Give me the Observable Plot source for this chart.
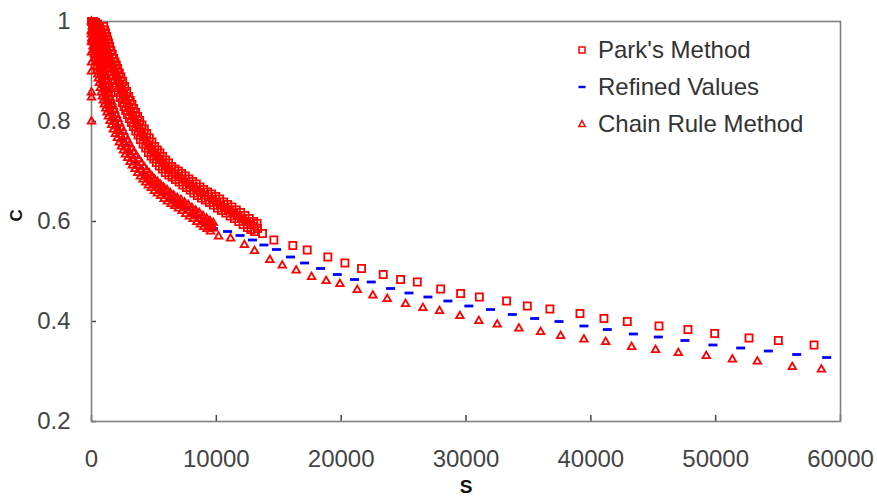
<!DOCTYPE html>
<html><head><meta charset="utf-8">
<script src="https://cdn.jsdelivr.net/npm/d3@7"></script>
<script src="https://cdn.jsdelivr.net/npm/@observablehq/plot@0.6"></script>
<style>
body{margin:0;background:#fff;}
#wrap{position:relative;width:877px;height:504px;font-family:"Liberation Sans",Arial,sans-serif;}
#legend{position:absolute;left:574px;top:31px;font-size:24px;color:#333;line-height:37px;}
#legend div{display:flex;align-items:center;white-space:nowrap;height:37px;}
#legend svg{width:16px;height:16px;margin-right:8px;}
</style></head><body><div id="wrap"><div id="legend"></div></div>
<script>
const xTicks = [0, 10000, 20000, 30000, 40000, 50000, 60000];
const yTicks = [0.2, 0.4, 0.6, 0.8, 1];
const seriesNames = ["Park's Method", "Refined Values", "Chain Rule Method"];

// [S, C] pairs
const parkPoints = [
[0,1.0],[80,0.996],[160,1.0],[240,0.993],[320,0.998],[400,0.99],[480,0.995],[560,0.988],[640,0.99],[200,0.994],[450,0.985],
[471,0.978],[721,0.984],[971,0.990],[551,0.971],[801,0.977],[1051,0.983],[632,0.965],[882,0.971],[1132,0.977],
[712,0.958],[962,0.964],[1212,0.970],[792,0.951],[1042,0.957],[1292,0.963],[872,0.945],[1122,0.951],[1372,0.957],
[952,0.938],[1202,0.944],[1452,0.950],[1059,0.930],[1309,0.936],[1559,0.942],[1165,0.922],[1415,0.928],[1665,0.934],
[1272,0.914],[1522,0.920],[1772,0.926],[1379,0.907],[1629,0.913],[1879,0.919],[1486,0.901],[1736,0.907],[1986,0.913],
[1593,0.894],[1843,0.900],[2093,0.906],[1727,0.885],[1977,0.891],[2227,0.897],[1860,0.877],[2110,0.883],[2360,0.889],
[1994,0.868],[2244,0.874],[2494,0.880],[2154,0.858],[2404,0.864],[2654,0.870],[2314,0.848],[2564,0.854],[2814,0.860],
[2474,0.838],[2724,0.844],[2974,0.850],[2608,0.830],[2858,0.836],[3108,0.842],[2741,0.822],[2991,0.828],[3241,0.834],
[2875,0.814],[3125,0.820],[3375,0.826],[3035,0.806],[3285,0.812],[3535,0.818],[3196,0.798],[3446,0.804],[3696,0.810],
[3356,0.790],[3606,0.796],[3856,0.802],[3543,0.781],[3793,0.787],[4043,0.793],[3730,0.773],[3980,0.779],[4230,0.785],
[3917,0.764],[4167,0.770],[4417,0.776],[4131,0.755],[4381,0.761],[4631,0.767],[4344,0.747],[4594,0.753],[4844,0.759],
[4558,0.738],[4808,0.744],[5058,0.750],[4772,0.731],[5022,0.737],[5272,0.743],[4985,0.725],[5235,0.731],[5485,0.737],
[5199,0.718],[5449,0.724],[5699,0.730],[5439,0.711],[5689,0.717],[5939,0.723],[5680,0.705],[5930,0.711],[6180,0.717],
[5920,0.698],[6170,0.704],[6420,0.710],[6187,0.693],[6437,0.699],[6687,0.705],[6454,0.689],[6704,0.695],[6954,0.701],
[6721,0.684],[6971,0.690],[7221,0.696],[7015,0.679],[7265,0.685],[7515,0.691],[7309,0.673],[7559,0.679],[7809,0.685],
[7603,0.668],[7853,0.674],[8103,0.680],[7897,0.663],[8147,0.669],[8397,0.675],[8190,0.657],[8440,0.663],[8690,0.669],
[8484,0.652],[8734,0.658],[8984,0.664],[8805,0.647],[9055,0.653],[9305,0.659],[9125,0.643],[9375,0.649],[9625,0.655],
[9446,0.638],[9696,0.644],[9946,0.650],[9766,0.633],[10016,0.639],[10266,0.645],[10087,0.627],[10337,0.633],[10587,0.639],
[10407,0.622],[10657,0.628],[10907,0.634],[10754,0.617],[11004,0.623],[11254,0.629],[11102,0.611],[11352,0.617],[11602,0.623],
[11449,0.606],[11699,0.612],[11949,0.618],[11796,0.600],[12046,0.606],[12296,0.612],[12143,0.594],[12393,0.600],[12643,0.606],
[12490,0.588],[12740,0.594],[12990,0.600],[12770,0.584],[13020,0.590],[13270,0.596],[13051,0.580],[13301,0.586],
[13700,0.576],[14610,0.563],[16130,0.552],[17280,0.543],[18930,0.529],[20300,0.517],[21630,0.506],[23370,0.494],
[24760,0.484],[26100,0.479],[27970,0.465],[29570,0.456],[31070,0.449],[33250,0.441],[34910,0.431],[36720,0.425],
[39130,0.416],[41050,0.406],[42920,0.400],[45460,0.391],[47780,0.384],[49920,0.376],[52670,0.367],[55020,0.362],[57880,0.353]
];

const refinedPoints = [
[160,0.988],[240,0.976],[321,0.964],[401,0.952],[481,0.940],[561,0.928],[641,0.916],[721,0.904],[801,0.892],[922,0.878],
[1042,0.864],[1162,0.852],[1282,0.840],[1443,0.828],[1603,0.816],[1803,0.803],[2003,0.790],[2244,0.777],[2484,0.764],[2725,0.752],
[2965,0.740],[3246,0.729],[3526,0.718],[3847,0.707],[4167,0.696],[4488,0.687],[4808,0.678],[5169,0.670],[5529,0.662],[5930,0.654],
[6330,0.646],[6771,0.639],[7212,0.632],[7653,0.624],[8093,0.616],[8534,0.608],[8975,0.600],[9376,0.593],[9776,0.586],
[10900,0.580],[11900,0.572],[12900,0.563],[13810,0.553],[14820,0.544],[15945,0.529],[17070,0.517],[18350,0.506],[19690,0.494],
[21070,0.484],[22410,0.479],[23960,0.466],[25430,0.457],[26950,0.449],[28550,0.441],[30230,0.431],[31970,0.424],[33710,0.414],
[35500,0.406],[37450,0.400],[39450,0.391],[41320,0.384],[43406,0.375],[45406,0.369],[47540,0.362],[49780,0.353],[52003,0.347],
[54220,0.341],[56490,0.334],[58894,0.328]
];

const chainPoints = [
[0,0.80],[0,0.848],[0,0.858],[0,0.90],[0,0.918],[0,0.938],[0,0.96],[0,0.98],[0,1.0],[60,0.99],
[0,0.982],[160,0.988],[410,0.994],[0,0.974],[214,0.980],[464,0.986],[17,0.966],[267,0.972],[517,0.978],
[71,0.958],[321,0.964],[571,0.970],[124,0.950],[374,0.956],[624,0.962],[178,0.942],[428,0.948],[678,0.954],
[231,0.934],[481,0.940],[731,0.946],[284,0.926],[534,0.932],[784,0.938],[338,0.918],[588,0.924],[838,0.930],
[391,0.910],[641,0.916],[891,0.922],[444,0.902],[694,0.908],[944,0.914],[498,0.894],[748,0.900],[998,0.906],
[551,0.886],[801,0.892],[1051,0.898],[631,0.877],[881,0.883],[1131,0.889],[712,0.867],[962,0.873],[1212,0.879],
[792,0.858],[1042,0.864],[1292,0.870],[872,0.850],[1122,0.856],[1372,0.862],[952,0.842],[1202,0.848],[1452,0.854],
[1032,0.834],[1282,0.840],[1532,0.846],[1139,0.826],[1389,0.832],[1639,0.838],[1246,0.818],[1496,0.824],[1746,0.830],
[1353,0.810],[1603,0.816],[1853,0.822],[1486,0.801],[1736,0.807],[1986,0.813],[1620,0.793],[1870,0.799],[2120,0.805],
[1753,0.784],[2003,0.790],[2253,0.796],[1913,0.775],[2163,0.781],[2413,0.787],[2074,0.767],[2324,0.773],[2574,0.779],
[2234,0.758],[2484,0.764],[2734,0.770],[2394,0.750],[2644,0.756],[2894,0.762],[2555,0.742],[2805,0.748],[3055,0.754],
[2715,0.734],[2965,0.740],[3215,0.746],[2902,0.727],[3152,0.733],[3402,0.739],[3089,0.719],[3339,0.725],[3589,0.731],
[3276,0.712],[3526,0.718],[3776,0.724],[3490,0.705],[3740,0.711],[3990,0.717],[3703,0.697],[3953,0.703],[4203,0.709],
[3917,0.690],[4167,0.696],[4417,0.702],[4131,0.684],[4381,0.690],[4631,0.696],[4344,0.678],[4594,0.684],[4844,0.690],
[4558,0.672],[4808,0.678],[5058,0.684],[4798,0.667],[5048,0.673],[5298,0.679],[5039,0.661],[5289,0.667],[5539,0.673],
[5279,0.656],[5529,0.662],[5779,0.668],[5546,0.651],[5796,0.657],[6046,0.663],[5813,0.645],[6063,0.651],[6313,0.657],
[6080,0.640],[6330,0.646],[6580,0.652],[6374,0.635],[6624,0.641],[6874,0.647],[6668,0.631],[6918,0.637],[7168,0.643],
[6962,0.626],[7212,0.632],[7462,0.638],[7256,0.621],[7506,0.627],[7756,0.633],[7549,0.615],[7799,0.621],[8049,0.627],
[7843,0.610],[8093,0.616],[8343,0.622],[8137,0.605],[8387,0.611],[8637,0.617],[8431,0.599],[8681,0.605],[8931,0.611],
[8725,0.594],[8975,0.600],[9225,0.606],[8992,0.589],[9242,0.595],[9492,0.601],[9259,0.585],[9509,0.591],[9759,0.597],
[9526,0.580],[9776,0.586],
[10180,0.570],[11140,0.566],[12250,0.553],[13060,0.541],[14290,0.523],[15280,0.512],[16400,0.502],[17630,0.489],
[18800,0.481],[19900,0.475],[21290,0.463],[22540,0.452],[23690,0.445],[25160,0.435],[26550,0.427],[27880,0.421],
[29510,0.411],[31030,0.401],[32500,0.394],[34240,0.386],[35980,0.379],[37580,0.371],[39450,0.364],[41190,0.359],
[43270,0.349],[45190,0.343],[47010,0.337],[49250,0.331],[51340,0.324],[53340,0.320],[56140,0.309],[58470,0.304]
];

const toRows = pts => pts.map(([S, C]) => ({S, C}));
const park = toRows(parkPoints);
const refined = toRows(refinedPoints);
const chain = toRows(chainPoints);

const dash = {draw(ctx) {ctx.moveTo(-4.5, -1.4); ctx.lineTo(4.5, -1.4); ctx.lineTo(4.5, 1.4); ctx.lineTo(-4.5, 1.4); ctx.closePath();}};

const chart = Plot.plot({
  width: 877, height: 504,
  marginLeft: 91, marginRight: 37, marginTop: 21, marginBottom: 83,
  style: {fontFamily: "Liberation Sans, Arial, sans-serif", fontSize: "24px", background: "transparent"},
  x: {domain: [0, 60000]},
  y: {domain: [0.2, 1]},
  marks: [
    Plot.axisX({ticks: xTicks, tickFormat: d3.format("d"), tickSize: -6, tickPadding: 34, color: "#444", label: null, strokeWidth: 1.5}),
    Plot.axisY({ticks: yTicks, tickFormat: d3.format("~g"), tickSize: -5, tickPadding: 26, color: "#444", label: null, strokeWidth: 1.5}),
    Plot.frame({stroke: "#808080", strokeWidth: 1.6}),
    Plot.dot(park, {x: "S", y: "C", symbol: "square", r: 4, stroke: "#ff0000", strokeWidth: 1.8, fill: "none"}),
    Plot.dot(refined, {x: "S", y: "C", symbol: dash, fill: "#0000ff", stroke: "none"}),
    Plot.dot(chain, {x: "S", y: "C", symbol: "triangle", r: 2.8, stroke: "#ff0000", strokeWidth: 1.8, fill: "none"}),
    Plot.text(["C"], {text: d => d, frameAnchor: "left", dx: -75, rotate: -90, fontWeight: "bold", fontSize: 17, fill: "#111"}),
    Plot.text(["S"], {text: d => d, frameAnchor: "bottom", dy: 71, fontWeight: "bold", fontSize: 19, fill: "#111"})
  ]
});
document.getElementById("wrap").prepend(chart);

const icons = [
  '<svg viewBox="-8 -8 16 16"><rect x="-3" y="-3" width="6" height="6" fill="none" stroke="#ff0000" stroke-width="1.5"/></svg>',
  '<svg viewBox="-8 -8 16 16"><rect x="-3.5" y="-1.2" width="7" height="2.4" fill="#0000ff"/></svg>',
  '<svg viewBox="-8 -8 16 16"><path d="M0,-3.5L3.2,2.5L-3.2,2.5Z" fill="none" stroke="#ff0000" stroke-width="1.5"/></svg>'
];
const legend = document.getElementById("legend");
seriesNames.forEach((name, i) => {
  const row = document.createElement("div");
  row.innerHTML = icons[i] + "<span></span>";
  row.querySelector("span").textContent = name;
  legend.appendChild(row);
});
</script></body></html>
